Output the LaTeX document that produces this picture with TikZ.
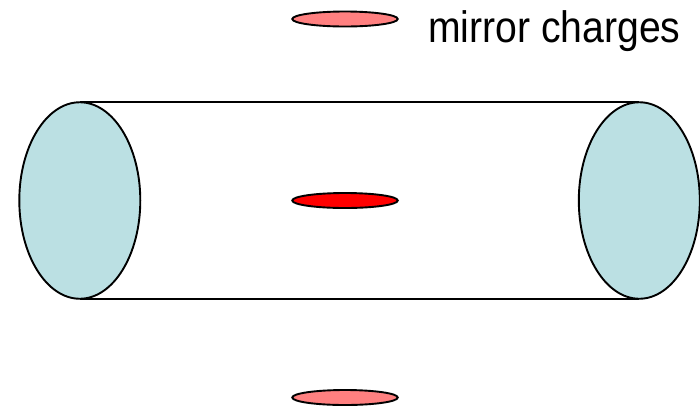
\documentclass[tikz,border=0pt]{standalone}
\usepackage{fontspec}
\setmainfont{Liberation Sans}
\usetikzlibrary{shapes.geometric}
\definecolor{capc}{HTML}{BBE0E3}
\definecolor{mirr}{HTML}{FF8080}
\tikzset{
  capell/.style={ellipse,draw=black,line width=1.9pt,fill=capc,minimum width=121pt,minimum height=196.5pt,inner sep=0pt,outer sep=0pt},
  chargeell/.style={ellipse,draw=black,line width=1.9pt,minimum width=105.5pt,minimum height=15pt,inner sep=0pt,outer sep=0pt},
  tube/.style={line width=1.7pt,draw=black}
}
\begin{document}
\begin{tikzpicture}[x=1pt,y=-1pt]
\useasboundingbox (0,0) rectangle (700,408);
\node[capell] (L) at (79.8,200.5) {};
\node[capell] (R) at (639.3,200.5) {};
\draw[tube] (L.north) -- (R.north);
\draw[tube] (L.south) -- (R.south);
\node[chargeell,fill=mirr] (top) at (345,19) {};
\node[chargeell,fill=red] (mid) at (345,200.5) {};
\node[chargeell,fill=mirr] (bot) at (345,397.5) {};
\node[anchor=base west,inner sep=0pt,font=\fontsize{44}{48}\selectfont,xscale=0.89] (lab) at (428,42) {mirror charges};
\end{tikzpicture}
\end{document}
